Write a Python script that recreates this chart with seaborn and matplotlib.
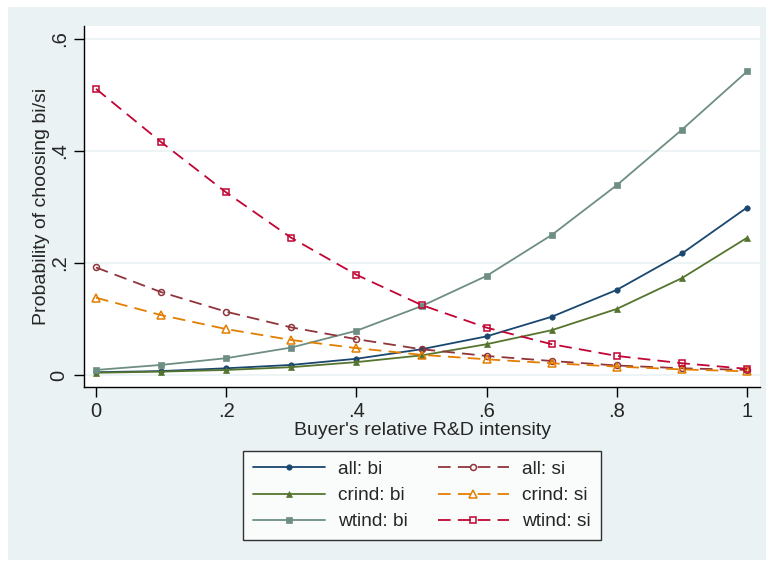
import matplotlib
matplotlib.use("Agg")
import matplotlib.pyplot as plt
from matplotlib.lines import Line2D
from matplotlib.patches import Rectangle
import seaborn as sns
import pandas as pd

# Relative R&D intensity grid
intensity = [0.0, 0.1, 0.2, 0.3, 0.4, 0.5, 0.6, 0.7, 0.8, 0.9, 1.0]

# Predicted probabilities by sample and mode
all_bi = [0.005, 0.007, 0.012, 0.018, 0.029, 0.046, 0.069, 0.104, 0.152, 0.217, 0.299]
all_si = [0.192, 0.148, 0.113, 0.085, 0.064, 0.046, 0.034, 0.025, 0.017, 0.012, 0.009]
crind_bi = [0.004, 0.006, 0.009, 0.014, 0.023, 0.035, 0.055, 0.080, 0.118, 0.173, 0.245]
crind_si = [0.138, 0.107, 0.082, 0.0625, 0.048, 0.036, 0.028, 0.021, 0.015, 0.010, 0.0065]
wtind_bi = [0.009, 0.018, 0.030, 0.049, 0.079, 0.123, 0.177, 0.250, 0.339, 0.438, 0.542]
wtind_si = [0.511, 0.416, 0.326, 0.245, 0.179, 0.125, 0.0845, 0.055, 0.034, 0.021, 0.011]

x_ticks = [0, 0.2, 0.4, 0.6, 0.8, 1.0]
x_tick_labels = ["0", ".2", ".4", ".6", ".8", "1"]
y_ticks = [0, 0.2, 0.4, 0.6]
y_tick_labels = ["0", ".2", ".4", ".6"]

sns.set_theme(style="white")
plt.rcParams["font.family"] = ["Liberation Sans", "DejaVu Sans"]

fig = plt.figure(figsize=(7.69, 5.62), dpi=100)
fig.patch.set_facecolor("white")
fig.patches.append(Rectangle((8 / 769, 1 - 560 / 562), 758 / 769, 553 / 562,
                             transform=fig.transFigure, facecolor="#EAF2F3",
                             edgecolor="none", zorder=-10))

ax = fig.add_axes([84 / 769, 1 - 387 / 562, 676 / 769, 361 / 562])
ax.set_facecolor("white")

dash = (0, (7, 4))
series = [
    ("all: bi", all_bi, "#1A476F", "o", "-", True, 3.9),
    ("crind: bi", crind_bi, "#55752F", "^", "-", True, 4.9),
    ("wtind: bi", wtind_bi, "#6E8E84", "s", "-", True, 4.3),
    ("all: si", all_si, "#90353B", "o", dash, False, 4.3),
    ("crind: si", crind_si, "#E37E00", "^", dash, False, 5.8),
    ("wtind: si", wtind_si, "#C10534", "s", dash, False, 4.8),
]

handles = {}
for label, vals, color, mk, ls, filled, ms in series:
    df = pd.DataFrame({"x": intensity, "y": vals})
    style = dict(color=color, marker=mk, linestyle=ls, linewidth=1.3,
                 markersize=ms, markerfacecolor=color if filled else "none",
                 markeredgecolor=color, markeredgewidth=0.5 if filled else 1.1)
    sns.lineplot(data=df, x="x", y="y", ax=ax, **style)
    handles[label] = Line2D([0], [0], **style)

ax.set_xlim(-12 / 651, 1 + 13 / 651)
ax.set_ylim(-12 / 560, 349 / 560)
ax.set_xticks(x_ticks)
ax.set_xticklabels(x_tick_labels, fontsize=14.5)
ax.set_yticks(y_ticks)
ax.set_yticklabels(y_tick_labels, fontsize=14.5, rotation=90, va="center")
ax.tick_params(axis="both", direction="out", length=7, width=1, color="black",
               left=True, bottom=True, pad=4)
for y in y_ticks:
    ax.axhline(y, color="#EAF2F3", linewidth=1.2, zorder=0)
ax.spines["top"].set_visible(False)
ax.spines["right"].set_visible(False)
for s in ("left", "bottom"):
    ax.spines[s].set_color("black")
    ax.spines[s].set_linewidth(1)
ax.set_xlabel("Buyer's relative R&D intensity", fontsize=14, labelpad=0.5)
ax.set_ylabel("Probability of choosing bi/si", fontsize=14, labelpad=0)

order = ["all: bi", "crind: bi", "wtind: bi", "all: si", "crind: si", "wtind: si"]
leg = fig.legend([handles[k] for k in order], order, ncol=2,
                 loc="center", bbox_to_anchor=(422 / 769, 1 - 495.5 / 562),
                 fontsize=13.8, frameon=True, fancybox=False, edgecolor="black",
                 handlelength=3.75, handletextpad=0.68, columnspacing=1.56,
                 labelspacing=0.45, borderpad=0.5, borderaxespad=0)
leg.get_frame().set_linewidth(1)
leg.get_frame().set_facecolor("white")

fig.savefig("out.png", dpi=100)
